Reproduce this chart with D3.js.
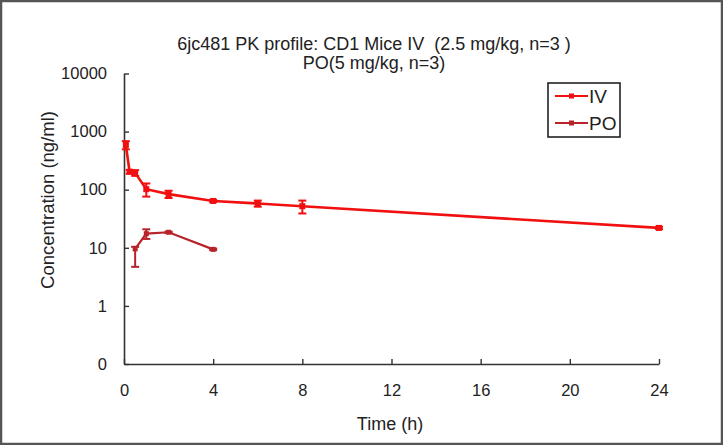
<!DOCTYPE html>
<html><head><meta charset="utf-8">
<script src="https://cdn.jsdelivr.net/npm/d3@7"></script>
<style>body{margin:0;background:#fff}svg{display:block}text{font-family:"Liberation Sans",Arial,sans-serif;fill:#222}</style>
</head><body><svg id="c" width="723" height="445"></svg>
<script>
const titleLines = ["6jc481 PK profile: CD1 Mice IV  (2.5 mg/kg, n=3 )", "PO(5 mg/kg, n=3)"];
const xTicks = [0, 4, 8, 12, 16, 20, 24];
const yTicks = [0.1, 1, 10, 100, 1000, 10000];
const yTickLabels = ["0", "1", "10", "100", "1000", "10000"];
const ivTime = [0.083, 0.25, 0.5, 1, 2, 4, 6, 8, 24];
const ivMean = [590, 204, 195, 102, 84, 64, 58, 52, 22];
const ivErr  = [95, 15, 22, 26, 12, 3, 7, 13, 1];
const poTime = [0.5, 1, 2, 4];
const poMean = [9.6, 17.5, 18.5, 9.4];
const poErrLo = [4.9, 3.3, 0.5, 0.3];
const poErrHi = [0.8, 3.3, 0.5, 0.3];

const svg = d3.select("#c");
svg.append("rect").attr("x",1).attr("y",1).attr("width",721).attr("height",443)
  .attr("fill","#fff").attr("stroke","#555").attr("stroke-width",2.5);

const m = {l:124, r:659, t:73.5, b:364};
const x = d3.scaleLinear().domain([0,24]).range([m.l, m.r]);
const y = d3.scaleLog().domain([0.1,10000]).range([m.b, m.t]);

// title
svg.append("g").selectAll("text").data(titleLines).join("text")
  .attr("x", 374).attr("y",(d,i)=>50+i*18.5).attr("text-anchor","middle")
  .style("white-space","pre")
  .attr("font-size",18).text(d=>d);

// axes
const axisColor = "#333";
const gx = svg.append("g").attr("transform",`translate(0,${m.b})`)
  .call(d3.axisBottom(x).tickValues(xTicks).tickSizeInner(-5).tickSizeOuter(0).tickPadding(20));
const gy = svg.append("g").attr("transform",`translate(${m.l},0)`)
  .call(d3.axisLeft(y).tickValues(yTicks).tickFormat((d,i)=>yTickLabels[i]).tickSizeInner(-5).tickSizeOuter(0).tickPadding(17));
[gx,gy].forEach(g=>{
  g.select(".domain").attr("stroke",axisColor).attr("stroke-width",1.6);
  g.selectAll(".tick line").attr("stroke",axisColor).attr("stroke-width",1.4);
  g.selectAll(".tick text").attr("font-size",16.5).attr("fill","#222").attr("font-family","Liberation Sans, Arial, sans-serif");
});

svg.append("text").attr("x",390).attr("y",430).attr("text-anchor","middle").attr("font-size",18).text("Time (h)");
svg.append("text").attr("transform","translate(54,200) rotate(-90)").attr("text-anchor","middle").attr("font-size",18.5).text("Concentration (ng/ml)");

function series(times, means, lo, hi, color, lw, ms){
  const data = times.map((t,i)=>({t, v:means[i], lo:means[i]-lo[i], hi:means[i]+hi[i]}));
  const g = svg.append("g");
  g.append("path").datum(data).attr("fill","none").attr("stroke",color).attr("stroke-width",lw)
    .attr("d", d3.line().x(d=>x(d.t)).y(d=>y(d.v)));
  const eb = g.selectAll(".eb").data(data).join("g");
  eb.append("line").attr("x1",d=>x(d.t)).attr("x2",d=>x(d.t)).attr("y1",d=>y(d.lo)).attr("y2",d=>y(d.hi)).attr("stroke",color).attr("stroke-width",2);
  eb.append("line").attr("x1",d=>x(d.t)-4).attr("x2",d=>x(d.t)+4).attr("y1",d=>y(d.lo)).attr("y2",d=>y(d.lo)).attr("stroke",color).attr("stroke-width",2);
  eb.append("line").attr("x1",d=>x(d.t)-4).attr("x2",d=>x(d.t)+4).attr("y1",d=>y(d.hi)).attr("y2",d=>y(d.hi)).attr("stroke",color).attr("stroke-width",2);
  g.selectAll("rect").data(data).join("rect").attr("x",d=>x(d.t)-ms/2).attr("y",d=>y(d.v)-ms/2)
    .attr("width",ms).attr("height",ms).attr("fill",color);
}
const ivColor = "#f01010", poColor = "#b8232a";
series(ivTime, ivMean, ivErr, ivErr, ivColor, 2.6, 6);
series(poTime, poMean, poErrLo, poErrHi, poColor, 2.2, 5);

// legend
const lg = svg.append("g");
lg.append("rect").attr("x",548).attr("y",83).attr("width",72).attr("height",54).attr("fill","#fff").attr("stroke","#222").attr("stroke-width",1.6);
[["IV",ivColor,96],["PO",poColor,123]].forEach(([n,c,yy])=>{
  lg.append("line").attr("x1",555).attr("x2",588).attr("y1",yy).attr("y2",yy).attr("stroke",c).attr("stroke-width",2);
  lg.append("rect").attr("x",569).attr("y",yy-2.5).attr("width",5).attr("height",5).attr("fill",c);
  lg.append("text").attr("x",589).attr("y",yy+6.5).attr("font-size",19).text(n);
});
</script></body></html>
